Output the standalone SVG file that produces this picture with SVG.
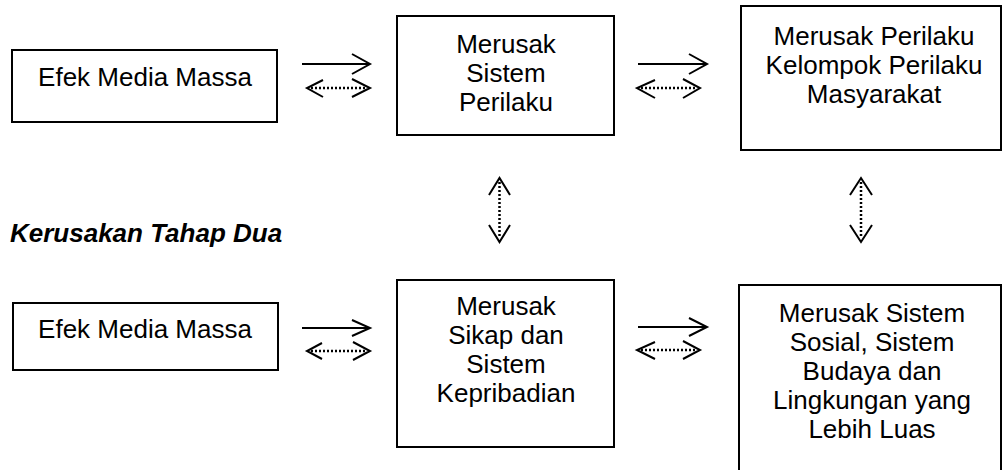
<svg xmlns="http://www.w3.org/2000/svg" width="1003" height="470" viewBox="0 0 1003 470">
  <style>
    .box { fill: #ffffff; stroke: #000000; stroke-width: 2; }
    .label { font-family: "Liberation Sans", Arial, sans-serif; font-size: 26px; fill: #000000; text-anchor: middle; }
    .title { font-family: "Liberation Sans", Arial, sans-serif; font-size: 26px; font-weight: bold; font-style: italic; fill: #000000; }
    .solid { fill: none; stroke: #000000; stroke-width: 2; }
    .dotted { fill: none; stroke: #000000; stroke-width: 2.5; stroke-dasharray: 2 2; }
    .head { fill: none; stroke: #000000; stroke-width: 2; stroke-linejoin: miter; }
  </style>

  <rect x="0" y="0" width="1003" height="470" fill="#ffffff"/>

  <!-- heading for the second stage -->
  <text class="title" x="10" y="242">Kerusakan Tahap Dua</text>

  <!-- stage one -->
  <g id="efek-media-1">
    <rect class="box" x="12" y="50" width="265" height="72"/>
    <text class="label" x="145" y="86">Efek Media Massa</text>
  </g>
  <g id="sistem-perilaku">
    <rect class="box" x="397" y="16" width="217" height="119"/>
    <text class="label" x="506" y="53">Merusak</text>
    <text class="label" x="506" y="82">Sistem</text>
    <text class="label" x="506" y="111">Perilaku</text>
  </g>
  <g id="perilaku-kelompok">
    <rect class="box" x="741" y="6" width="260" height="144"/>
    <text class="label" x="874" y="45">Merusak Perilaku</text>
    <text class="label" x="874" y="74">Kelompok Perilaku</text>
    <text class="label" x="874" y="103">Masyarakat</text>
  </g>

  <!-- stage two -->
  <g id="efek-media-2">
    <rect class="box" x="13" y="303" width="265" height="67"/>
    <text class="label" x="145" y="338">Efek Media Massa</text>
  </g>
  <g id="sikap-kepribadian">
    <rect class="box" x="397" y="280" width="217" height="167"/>
    <text class="label" x="506" y="315">Merusak</text>
    <text class="label" x="506" y="344">Sikap dan</text>
    <text class="label" x="506" y="373">Sistem</text>
    <text class="label" x="506" y="402">Kepribadian</text>
  </g>
  <g id="sosial-budaya">
    <path class="box" d="M739,476 V285 H1001 V476"/>
    <text class="label" x="872" y="322">Merusak Sistem</text>
    <text class="label" x="872" y="351">Sosial, Sistem</text>
    <text class="label" x="872" y="380">Budaya dan</text>
    <text class="label" x="872" y="409">Lingkungan yang</text>
    <text class="label" x="872" y="438">Lebih Luas</text>
  </g>

  <!-- connectors: solid one-way arrows, dotted two-way arrows -->
  <g id="connectors">
    <!-- efek media 1 -> sistem perilaku -->
    <line class="solid" x1="302" y1="64" x2="369" y2="64"/>
    <polyline class="head" points="352,54 370,64 352,74"/>
    <line class="dotted" x1="311" y1="88" x2="366" y2="88"/>
    <polyline class="head" points="323,80 307,88 323,97"/>
    <polyline class="head" points="352,79 370,88 352,97"/>

    <!-- sistem perilaku -> perilaku kelompok -->
    <line class="solid" x1="638" y1="64" x2="706" y2="64"/>
    <polyline class="head" points="689,54 707,64 689,74"/>
    <line class="dotted" x1="641" y1="88" x2="696" y2="88"/>
    <polyline class="head" points="655,80 637,88 655,98"/>
    <polyline class="head" points="683,79 700,88 683,98"/>

    <!-- efek media 2 -> sikap kepribadian -->
    <line class="solid" x1="302" y1="328" x2="369" y2="328"/>
    <polyline class="head" points="352,320 370,328 352,336"/>
    <line class="dotted" x1="311" y1="351" x2="366" y2="351"/>
    <polyline class="head" points="322,343 307,351 322,359"/>
    <polyline class="head" points="353,342 370,351 353,360"/>

    <!-- sikap kepribadian -> sosial budaya -->
    <line class="solid" x1="638" y1="327" x2="706" y2="327"/>
    <polyline class="head" points="689,318 707,327 689,336"/>
    <line class="dotted" x1="641" y1="350" x2="696" y2="350"/>
    <polyline class="head" points="655,342 637,350 655,359"/>
    <polyline class="head" points="683,341 700,350 683,359"/>

    <!-- vertical links between stages -->
    <line class="dotted" x1="499.5" y1="182" x2="499.5" y2="238"/>
    <polyline class="head" points="489,195 499.5,178 510,195"/>
    <polyline class="head" points="489,225 499.5,242 510,225"/>

    <line class="dotted" x1="861" y1="182" x2="861" y2="238"/>
    <polyline class="head" points="850,195 861,178 872,195"/>
    <polyline class="head" points="850,225 861,242 872,225"/>
  </g>
</svg>
